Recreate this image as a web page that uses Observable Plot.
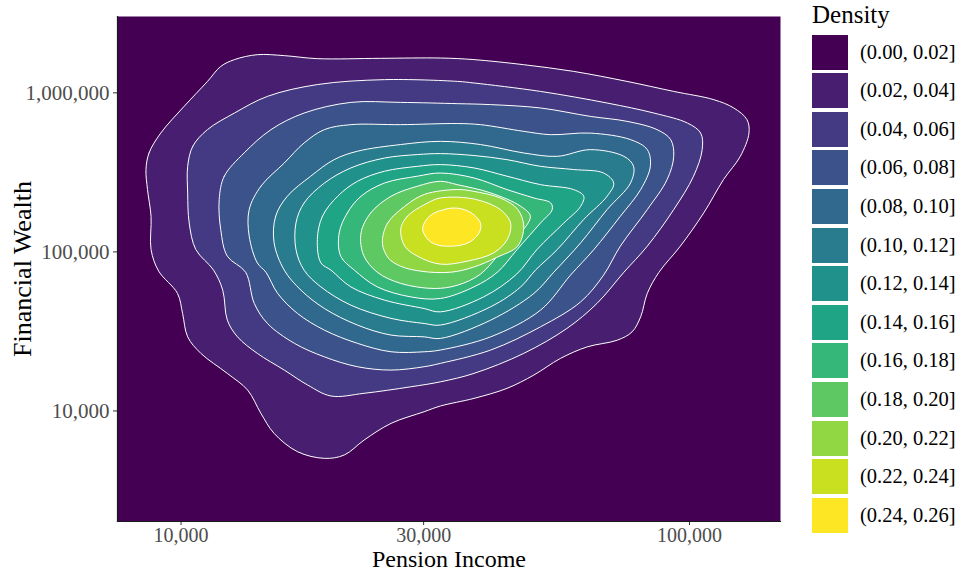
<!DOCTYPE html>
<html>
<head>
<meta charset="utf-8">
<script src="https://cdn.jsdelivr.net/npm/d3@7"></script>
<script src="https://cdn.jsdelivr.net/npm/@observablehq/plot@0.6"></script>
<style>
  html, body { margin: 0; padding: 0; background: #ffffff; }
  #chart { position: relative; width: 961px; height: 571px; font-family: "Liberation Serif", "Times New Roman", serif; }
  #chart svg { position: absolute; left: 0; top: 0; }
  #legend { position: absolute; left: 812px; top: 0; width: 149px; height: 571px; color: #000; }
  #legend .title { position: absolute; left: 0; top: 1px; font-size: 25px; line-height: 28px; }
  #legend .key { position: absolute; left: 0; width: 36px; height: 35px; }
  #legend .lab { position: absolute; left: 48px; font-size: 20.5px; line-height: 35px; white-space: nowrap; }
</style>
</head>
<body>
<div id="chart"><div id="legend"></div></div>
<script>
// Density bands (2D kernel density of pension income vs financial wealth)
const bandLabels = [
  "(0.00, 0.02]", "(0.02, 0.04]", "(0.04, 0.06]", "(0.06, 0.08]", "(0.08, 0.10]",
  "(0.10, 0.12]", "(0.12, 0.14]", "(0.14, 0.16]", "(0.16, 0.18]", "(0.18, 0.20]",
  "(0.20, 0.22]", "(0.22, 0.24]", "(0.24, 0.26]"
];

// Axis ticks
const incomeTicks = [10000, 30000, 100000];
const wealthTicks = [10000, 100000, 1000000];

// Contour boundaries: [log10 pension income, log10 financial wealth], clockwise
const c02 = [[3.931,5.518],[3.937,5.622],[3.960,5.747],[4.006,5.915],[4.052,6.072],[4.078,6.166],[4.105,6.209],[4.150,6.240],[4.203,6.234],[4.268,6.215],[4.392,6.217],[4.510,6.219],[4.576,6.209],[4.674,6.177],[4.772,6.135],[4.877,6.072],[4.969,6.009],[5.048,5.957],[5.087,5.905],[5.113,5.832],[5.117,5.747],[5.100,5.601],[5.067,5.455],[5.028,5.245],[4.982,5.036],[4.940,4.872],[4.917,4.739],[4.904,4.592],[4.887,4.497],[4.858,4.445],[4.799,4.403],[4.746,4.330],[4.694,4.226],[4.641,4.142],[4.576,4.079],[4.510,4.031],[4.478,3.995],[4.413,3.922],[4.360,3.817],[4.321,3.723],[4.282,3.702],[4.229,3.744],[4.183,3.859],[4.157,3.985],[4.131,4.131],[4.091,4.236],[4.039,4.362],[4.013,4.466],[4.003,4.613],[3.993,4.739],[3.956,4.879],[3.941,5.015],[3.941,5.224],[3.934,5.392]];
const c04 = [[4.013,5.538],[4.023,5.664],[4.052,5.769],[4.105,5.873],[4.170,5.978],[4.268,6.052],[4.400,6.083],[4.544,6.072],[4.576,6.062],[4.707,6.009],[4.838,5.936],[4.930,5.873],[4.996,5.810],[5.022,5.747],[5.025,5.643],[5.008,5.476],[4.969,5.266],[4.917,5.036],[4.871,4.872],[4.818,4.676],[4.759,4.519],[4.674,4.362],[4.576,4.236],[4.510,4.183],[4.452,4.152],[4.360,4.111],[4.295,4.094],[4.249,4.163],[4.203,4.257],[4.150,4.362],[4.111,4.466],[4.091,4.571],[4.082,4.759],[4.064,4.885],[4.029,5.015],[4.016,5.182],[4.013,5.371]];
const c06 = [[4.075,5.329],[4.085,5.476],[4.124,5.622],[4.177,5.769],[4.242,5.873],[4.334,5.940],[4.432,5.940],[4.544,5.932],[4.609,5.926],[4.707,5.905],[4.805,5.852],[4.877,5.821],[4.936,5.769],[4.963,5.706],[4.969,5.601],[4.956,5.455],[4.917,5.266],[4.864,5.036],[4.831,4.854],[4.786,4.686],[4.707,4.529],[4.609,4.383],[4.510,4.299],[4.478,4.278],[4.413,4.257],[4.347,4.278],[4.282,4.340],[4.223,4.425],[4.170,4.550],[4.144,4.676],[4.127,4.872],[4.091,4.973],[4.078,5.141]];
const c08 = [[4.134,5.266],[4.157,5.413],[4.203,5.559],[4.242,5.685],[4.282,5.769],[4.334,5.800],[4.432,5.800],[4.544,5.807],[4.589,5.800],[4.674,5.758],[4.727,5.737],[4.805,5.747],[4.884,5.706],[4.917,5.643],[4.923,5.538],[4.904,5.392],[4.864,5.224],[4.812,5.015],[4.766,4.854],[4.707,4.634],[4.609,4.466],[4.510,4.383],[4.478,4.372],[4.413,4.372],[4.347,4.425],[4.282,4.508],[4.229,4.613],[4.190,4.739],[4.167,4.872],[4.150,4.931],[4.134,5.099]];
const c10 = [[4.183,5.057],[4.186,5.224],[4.209,5.350],[4.255,5.476],[4.301,5.580],[4.347,5.633],[4.432,5.675],[4.510,5.695],[4.589,5.675],[4.674,5.622],[4.740,5.601],[4.805,5.643],[4.871,5.601],[4.890,5.538],[4.884,5.433],[4.838,5.266],[4.786,5.057],[4.733,4.872],[4.694,4.739],[4.609,4.571],[4.510,4.456],[4.478,4.466],[4.413,4.477],[4.347,4.540],[4.282,4.644],[4.236,4.759],[4.203,4.885]];
const c12 = [[4.226,5.182],[4.242,5.308],[4.282,5.433],[4.334,5.528],[4.400,5.590],[4.465,5.612],[4.510,5.618],[4.576,5.606],[4.641,5.580],[4.707,5.538],[4.772,5.518],[4.831,5.496],[4.851,5.433],[4.838,5.350],[4.792,5.204],[4.740,5.015],[4.697,4.885],[4.668,4.780],[4.609,4.655],[4.510,4.540],[4.478,4.550],[4.413,4.582],[4.334,4.665],[4.275,4.780],[4.242,4.885],[4.226,5.015]];
const c14 = [[4.268,5.078],[4.278,5.224],[4.308,5.350],[4.347,5.444],[4.400,5.507],[4.465,5.538],[4.510,5.549],[4.576,5.528],[4.641,5.476],[4.707,5.423],[4.772,5.392],[4.792,5.350],[4.786,5.287],[4.753,5.182],[4.700,5.015],[4.660,4.860],[4.595,4.717],[4.510,4.623],[4.478,4.644],[4.400,4.697],[4.334,4.780],[4.295,4.885],[4.275,4.931]];
const c16 = [[4.311,5.119],[4.327,5.245],[4.354,5.350],[4.400,5.433],[4.465,5.476],[4.510,5.496],[4.576,5.465],[4.641,5.392],[4.694,5.339],[4.727,5.308],[4.730,5.266],[4.707,5.182],[4.661,5.015],[4.622,4.872],[4.576,4.780],[4.510,4.707],[4.452,4.717],[4.386,4.780],[4.341,4.885],[4.314,4.973]];
const c18 = [[4.354,5.119],[4.373,5.245],[4.413,5.350],[4.465,5.413],[4.510,5.444],[4.543,5.423],[4.609,5.371],[4.668,5.287],[4.687,5.224],[4.668,5.119],[4.628,4.994],[4.589,4.860],[4.544,4.791],[4.498,4.770],[4.432,4.802],[4.386,4.872],[4.359,4.979]];
const c20 = [[4.396,5.055],[4.406,5.180],[4.440,5.287],[4.479,5.362],[4.544,5.392],[4.575,5.381],[4.628,5.339],[4.662,5.268],[4.674,5.161],[4.662,5.036],[4.622,4.967],[4.575,4.904],[4.530,4.872],[4.471,4.879],[4.432,4.910],[4.408,4.960]];
const c22 = [[4.432,5.143],[4.445,5.224],[4.485,5.308],[4.510,5.339],[4.575,5.333],[4.628,5.266],[4.648,5.182],[4.642,5.080],[4.615,4.994],[4.563,4.942],[4.510,4.923],[4.465,4.973],[4.440,5.036]];
const c24 = [[4.475,5.143],[4.483,5.205],[4.497,5.243],[4.516,5.265],[4.536,5.276],[4.558,5.265],[4.577,5.231],[4.589,5.180],[4.587,5.124],[4.573,5.073],[4.554,5.045],[4.530,5.036],[4.506,5.042],[4.487,5.073]];

const contours = [c02, c04, c06, c08, c10, c12, c14, c16, c18, c20, c22, c24];

// Viridis, one colour per band
const bandColors = d3.quantize(d3.interpolateViridis, bandLabels.length);

const plot = Plot.plot({
  width: 961,
  height: 571,
  marginLeft: 117,
  marginRight: 181,
  marginTop: 16,
  marginBottom: 50,
  style: { fontFamily: "Liberation Serif, Times New Roman, serif", fontSize: "21px", background: "transparent", overflow: "visible" },
  x: { type: "log", domain: [10 ** 3.875, 10 ** 5.179] },
  y: { type: "log", domain: [10 ** 3.305, 10 ** 6.480] },
  color: { type: "ordinal", domain: bandLabels, range: bandColors },
  marks: [
    // lowest band covers the whole panel
    Plot.frame({ fill: bandColors[0], stroke: "none" }),
    ...contours.map((pts, i) =>
      Plot.line(pts, {
        x: (d) => 10 ** d[0],
        y: (d) => 10 ** d[1],
        fill: () => bandLabels[i + 1],
        stroke: "white",
        strokeWidth: 1,
        curve: "catmull-rom-closed"
      })
    ),
    Plot.axisX({ ticks: incomeTicks, tickFormat: d3.format(","), tickSize: 4, tickPadding: 2, stroke: "#333333", fill: "#4d4d4d", label: null, fontSize: 20 }),
    Plot.axisY({ ticks: wealthTicks, tickFormat: d3.format(","), tickSize: 4, tickPadding: 4, stroke: "#333333", fill: "#4d4d4d", label: null, fontSize: 21 }),
    Plot.frame({ anchor: "left", stroke: "#1a1a1a", strokeWidth: 1.2 }),
    Plot.frame({ anchor: "bottom", stroke: "#1a1a1a", strokeWidth: 1.2 }),
    Plot.text(["Pension Income"], { frameAnchor: "bottom", lineAnchor: "bottom", dy: 45.5, fontSize: 24, fill: "black" }),
    Plot.text(["Financial Wealth"], { frameAnchor: "left", textAnchor: "middle", dx: -95, rotate: -90, fontSize: 26, fill: "black" })
  ]
});

const chart = document.getElementById("chart");
chart.insertBefore(plot, chart.firstChild);

// Legend: title plus one swatch per density band
const legend = document.getElementById("legend");
const title = document.createElement("div");
title.className = "title";
title.textContent = "Density";
legend.appendChild(title);
bandLabels.forEach((label, i) => {
  const top = 34.5 + i * 38.6;
  const key = document.createElement("div");
  key.className = "key";
  key.style.top = top + "px";
  key.style.background = plot.scale("color").apply(label);
  legend.appendChild(key);
  const lab = document.createElement("div");
  lab.className = "lab";
  lab.style.top = top + "px";
  lab.textContent = label;
  legend.appendChild(lab);
});
</script>
</body>
</html>
